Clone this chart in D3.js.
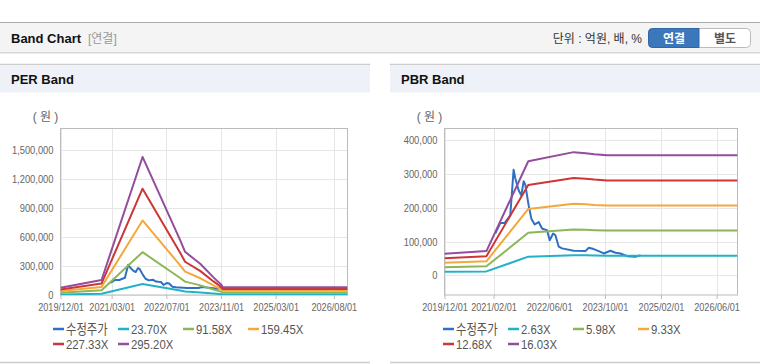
<!DOCTYPE html>
<html>
<head>
<meta charset="utf-8">
<script src="https://cdn.jsdelivr.net/npm/d3@7"></script>
<style>
  body { margin: 0; background: #fff; }
  svg { display: block; font-family: "Liberation Sans", "Noto Sans CJK KR", sans-serif; }
</style>
</head>
<body>
<script>
var W = 760, H = 364;
var parse = d3.timeParse("%Y-%m-%d");

// x ticks of both charts
var perTicks = ["2019-12-01", "2021-03-01", "2022-07-01", "2023-11-01", "2025-03-01", "2026-08-01"];
var pbrTicks = ["2019-12-01", "2021-02-01", "2022-06-01", "2023-10-01", "2025-02-01", "2026-06-01"];
var perYTicks = [0, 300000, 600000, 900000, 1200000, 1500000];
var pbrYTicks = [0, 100000, 200000, 300000, 400000];

// PER band (원)
var perDates = ["2019-12-01", "2020-12-01", "2021-12-01", "2022-11-01", "2022-12-15", "2023-05-01", "2023-08-25", "2023-11-05", "2023-11-15", "2026-12-01"];
var per237  = [6000, 12400, 114500, 45500, 35800, 25700, 14600, 8300, 6300, 6300];
var per9158 = [23300, 48100, 442400, 175900, 138300, 99300, 56500, 32000, 24500, 24500];
var per15945 = [40500, 83700, 770200, 306200, 240900, 172800, 98300, 55600, 42700, 42700];
var per22733 = [57800, 119400, 1098200, 436600, 343500, 246400, 140200, 79300, 60800, 60800];
var per29520 = [75000, 155000, 1426000, 567000, 446000, 320000, 182000, 103000, 79000, 79000];

// PBR band (원)
var pbrDates = ["2019-12-01", "2020-12-01", "2021-12-01", "2023-01-01", "2023-04-15", "2023-07-01", "2023-10-20", "2026-12-01"];
var pbr263  = [10500, 11800, 55500, 59900, 59400, 58800, 58400, 58400];
var pbr598  = [23900, 26900, 126100, 136200, 135100, 133800, 132700, 132700];
var pbr933  = [37200, 41900, 196700, 212400, 210700, 208700, 207000, 207000];
var pbr1268 = [50600, 57000, 267400, 288700, 286300, 283700, 281300, 281300];
var pbr1603 = [64000, 72000, 338000, 365000, 362000, 358600, 355600, 355600];

// 수정주가 (원)
var priceDates = ["2021-02-16", "2021-04-01", "2021-05-08", "2021-06-27", "2021-07-26", "2021-08-10", "2021-09-08", "2021-10-01",
  "2021-10-22", "2021-11-05", "2021-12-04", "2021-12-28", "2022-01-26", "2022-03-02", "2022-03-31", "2022-04-23", "2022-05-14",
  "2022-06-06", "2022-07-06", "2022-07-26", "2022-08-24", "2022-09-22", "2023-01-02", "2023-04-14", "2023-05-13", "2023-06-25",
  "2023-08-08", "2023-09-21", "2023-11-18", "2024-01-01", "2024-02-14", "2024-04-12", "2024-06-24", "2024-08-07"];
var price = [124000, 155000, 155000, 178000, 313000, 287000, 252000, 237000,
  279000, 269000, 208000, 168000, 151000, 158000, 139000, 136000, 134000,
  104000, 124000, 119000, 85000, 80000, 73000, 72000, 82000, 78000,
  72000, 65000, 73000, 67000, 65000, 57000, 55000, 60000];

var colors = ["#3070c4", "#22b2c8", "#8cb658", "#f4a83c", "#cc3636", "#944c9c"];

var svg = d3.select("body").append("svg").attr("width", W).attr("height", H);

// squeeze text horizontally (the original uses a narrow font)
function narrow(sel, k) {
  sel.each(function() {
    var w = this.getComputedTextLength();
    d3.select(this).attr("textLength", w * k).attr("lengthAdjust", "spacingAndGlyphs");
  });
}

// top header
svg.append("line").attr("x1", 0).attr("x2", W).attr("y1", 22.5).attr("y2", 22.5).attr("stroke", "#aaa");
svg.append("rect").attr("x", 0).attr("y", 23).attr("width", W).attr("height", 29).attr("fill", "#f4f4f4");
svg.append("line").attr("x1", 0).attr("x2", W).attr("y1", 52.5).attr("y2", 52.5).attr("stroke", "#d6d6d6");
svg.append("line").attr("x1", 0).attr("x2", W).attr("y1", 53.5).attr("y2", 53.5).attr("stroke", "#ececec");
svg.append("text").attr("x", 11).attr("y", 43).attr("font-size", 13).attr("font-weight", "bold").attr("fill", "#111").text("Band Chart");
svg.append("text").attr("x", 88).attr("y", 43).attr("font-size", 12).attr("fill", "#999").text("[연결]");
svg.append("text").attr("x", 642).attr("y", 43).attr("text-anchor", "end").attr("font-size", 12).attr("fill", "#333").text("단위 : 억원, 배, %");

// toggle buttons
svg.append("rect").attr("x", 648.5).attr("y", 28.5).attr("width", 102).attr("height", 19).attr("rx", 4)
  .attr("fill", "#fff").attr("stroke", "#bbb");
svg.append("path").attr("d", "M699,28.5 H652.5 Q648.5,28.5 648.5,32.5 V43.5 Q648.5,47.5 652.5,47.5 H699 Z")
  .attr("fill", "#3a78bb").attr("stroke", "#2f66a3");
svg.append("text").attr("x", 674).attr("y", 42.5).attr("text-anchor", "middle").attr("font-size", 12)
  .attr("font-weight", "bold").attr("fill", "#fff").text("연결");
svg.append("text").attr("x", 725).attr("y", 42.5).attr("text-anchor", "middle").attr("font-size", 12)
  .attr("font-weight", "bold").attr("fill", "#555").text("별도");

function panel(px, title) {
  svg.append("line").attr("x1", px).attr("x2", px + 370).attr("y1", 64.5).attr("y2", 64.5).attr("stroke", "#ccc").attr("stroke-width", 1.5);
  svg.append("rect").attr("x", px).attr("y", 65.5).attr("width", 370).attr("height", 27).attr("fill", "#eef2f8");
  svg.append("text").attr("x", px + 11).attr("y", 84).attr("font-size", 13).attr("font-weight", "bold").attr("fill", "#111").text(title);
  svg.append("line").attr("x1", px).attr("x2", px + 370).attr("y1", 362.5).attr("y2", 362.5).attr("stroke", "#ccc").attr("stroke-width", 1.5);
}

function chart(opt) {
  var x = d3.scaleTime().domain([parse("2019-12-01"), parse("2026-12-01")]).range([opt.left, opt.right]);
  var y = d3.scaleLinear().domain(opt.yDomain).range([opt.bottom, opt.top]);
  var g = svg.append("g");

  g.append("text").attr("x", opt.left - 15).attr("y", 121).attr("text-anchor", "middle")
    .attr("font-size", 12).attr("fill", "#666").text("( 원 )");

  // grid
  g.append("g").selectAll("line").data(opt.yTicks).enter().append("line")
    .attr("x1", opt.left).attr("x2", opt.right)
    .attr("y1", function(d) { return Math.round(y(d)) + 0.5; })
    .attr("y2", function(d) { return Math.round(y(d)) + 0.5; })
    .attr("stroke", "#e6e6e6");
  g.append("g").selectAll("line").data(opt.xTicks.map(parse)).enter().append("line")
    .attr("x1", function(d) { return Math.round(x(d)) + 0.5; })
    .attr("x2", function(d) { return Math.round(x(d)) + 0.5; })
    .attr("y1", opt.top).attr("y2", opt.bottom)
    .attr("stroke", "#e6e6e6");

  // axes
  var ya = d3.axisLeft(y).tickValues(opt.yTicks).tickSize(0).tickPadding(7).tickFormat(d3.format(","));
  var yg = g.append("g").attr("transform", "translate(" + opt.left + ",0)").call(ya);
  yg.select(".domain").remove();
  yg.attr("font-family", null);
  yg.selectAll("text").attr("font-size", 11).attr("fill", "#666").call(narrow, 0.85);

  var xa = d3.axisBottom(x).tickValues(opt.xTicks.map(parse)).tickSize(4).tickPadding(5).tickFormat(d3.timeFormat("%Y/%m/%d"));
  var xg = g.append("g").attr("transform", "translate(0," + opt.bottom + ")").call(xa);
  xg.select(".domain").remove();
  xg.attr("font-family", null);
  xg.selectAll("line").attr("stroke", "#bbb");
  xg.selectAll("text").attr("font-size", 10.5).attr("fill", "#666").call(narrow, 0.87);

  // frame
  g.append("rect").attr("x", opt.left).attr("y", opt.top).attr("width", opt.right - opt.left)
    .attr("height", opt.bottom - opt.top).attr("fill", "none").attr("stroke", "#bbb");

  var clipId = "clip" + Math.round(opt.left);
  svg.append("clipPath").attr("id", clipId).append("rect")
    .attr("x", opt.left).attr("y", opt.top).attr("width", opt.right - opt.left).attr("height", opt.bottom - opt.top);

  var line = d3.line().x(function(d) { return x(d[0]); }).y(function(d) { return y(d[1]); });
  var series = [{ dates: priceDates, vals: price }].concat(opt.bands.map(function(b) { return { dates: opt.bandDates, vals: b }; }));
  g.append("g").attr("clip-path", "url(#" + clipId + ")").selectAll("path").data(series).enter().append("path")
    .attr("d", function(s) { return line(s.dates.map(function(d, i) { return [parse(d), s.vals[i]]; })); })
    .attr("fill", "none")
    .attr("stroke", function(s, i) { return colors[i]; })
    .attr("stroke-width", 2)
    .attr("stroke-linejoin", "round");

  // legend
  var items = ["수정주가"].concat(opt.names);
  var lg = g.selectAll("g.leg").data(items).enter().append("g")
    .attr("transform", function(d, i) {
      return "translate(" + (opt.legX + (i % 4) * 65) + "," + (329 + Math.floor(i / 4) * 15) + ")";
    });
  lg.append("line").attr("x1", 0).attr("x2", 11).attr("y1", 0).attr("y2", 0)
    .attr("stroke", function(d, i) { return colors[i]; }).attr("stroke-width", 2.5);
  lg.append("text").attr("x", 13).attr("y", 5).attr("font-size", 13.5).attr("fill", "#555")
    .text(function(d) { return d; }).call(narrow, 0.84);
}

panel(0, "PER Band");
panel(390, "PBR Band");

chart({
  left: 60.5, right: 347.5, top: 128.5, bottom: 295,
  yDomain: [0, 1720000], yTicks: perYTicks, xTicks: perTicks,
  bandDates: perDates, bands: [per237, per9158, per15945, per22733, per29520],
  names: ["23.70X", "91.58X", "159.45X", "227.33X", "295.20X"], legX: 53
});
chart({
  left: 444.5, right: 737.5, top: 128.5, bottom: 295,
  yDomain: [-58000, 435000], yTicks: pbrYTicks, xTicks: pbrTicks,
  bandDates: pbrDates, bands: [pbr263, pbr598, pbr933, pbr1268, pbr1603],
  names: ["2.63X", "5.98X", "9.33X", "12.68X", "16.03X"], legX: 443
});
</script>
</body>
</html>
